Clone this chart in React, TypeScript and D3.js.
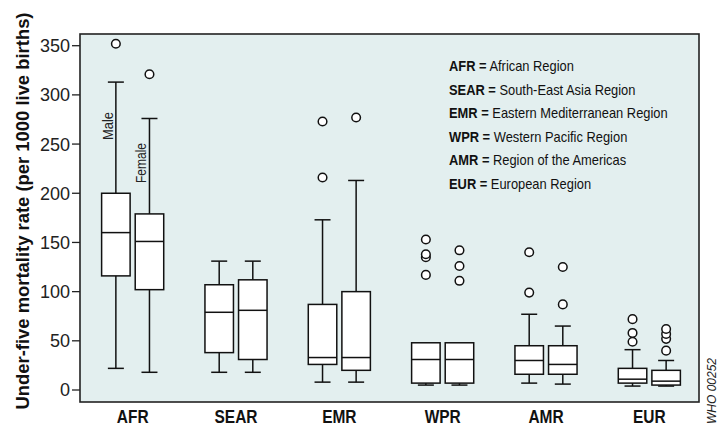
import { useEffect, useRef } from "react";
import * as d3 from "d3";

// regions along the x axis
const regions = ["AFR", "SEAR", "EMR", "WPR", "AMR", "EUR"];
const sexes = ["Male", "Female"];

// box stats (per 1000 live births)
const maleLow = [22, 18, 8, 5, 7, 4];
const maleQ1 = [116, 38, 26, 7, 16, 7];
const maleMedian = [160, 79, 33, 31, 30, 11];
const maleQ3 = [200, 107, 87, 48, 45, 22];
const maleHigh = [313, 131, 173, 48, 77, 41];
const maleOutliers = [[352], [], [216, 273], [117, 135, 138, 153], [99, 140], [49, 58, 72]];

const femaleLow = [18, 18, 8, 5, 6, 4];
const femaleQ1 = [102, 31, 20, 7, 16, 5];
const femaleMedian = [151, 81, 33, 31, 26, 9];
const femaleQ3 = [179, 112, 100, 48, 45, 20];
const femaleHigh = [276, 131, 213, 48, 65, 30];
const femaleOutliers = [[321], [], [277], [111, 126, 142], [87, 125], [40, 52, 57, 62]];

const yTicks = [0, 50, 100, 150, 200, 250, 300, 350];

const legendCodes = ["AFR", "SEAR", "EMR", "WPR", "AMR", "EUR"];
const legendNames = [
    "African Region",
    "South-East Asia Region",
    "Eastern Mediterranean Region",
    "Western Pacific Region",
    "Region of the Americas",
    "European Region",
];

// the original uses a condensed face, so texts get squeezed horizontally
const FONT = "'Liberation Sans', Arial, sans-serif";

export default function App() {
    const svgRef = useRef<SVGSVGElement | null>(null);

    useEffect(() => {
        document.body.style.margin = "0";

        const svg = d3.select(svgRef.current);
        svg.selectAll("*").remove();

        // plot frame
        const frame = { left: 80, right: 699, top: 34, bottom: 402 };

        // build the table of boxes from the arrays
        const boxes = regions.flatMap((r, i) => [
            { region: r, sex: "Male", low: maleLow[i], q1: maleQ1[i], med: maleMedian[i], q3: maleQ3[i], high: maleHigh[i], out: maleOutliers[i] },
            { region: r, sex: "Female", low: femaleLow[i], q1: femaleQ1[i], med: femaleMedian[i], q3: femaleQ3[i], high: femaleHigh[i], out: femaleOutliers[i] },
        ]);

        const x = d3.scaleBand().domain(regions).range([81, 701]);
        const xSex = d3.scaleBand().domain(sexes).range([-33.6, 33.6]);
        const y = d3.scaleLinear().domain([0, 350]).range([390, 45.7]);

        const boxW = 28.5;
        const capW = 16;
        const xMid = (r: string) => (x(r) as number) + x.bandwidth() / 2;
        const cx = (d: any) => xMid(d.region) + (xSex(d.sex) as number) + xSex.bandwidth() / 2;

        // background
        svg.append("rect")
            .attr("x", frame.left)
            .attr("y", frame.top)
            .attr("width", frame.right - frame.left)
            .attr("height", frame.bottom - frame.top)
            .attr("fill", "#e3efef")
            .attr("stroke", "#222")
            .attr("stroke-width", 1.6);

        // y axis ticks
        const yAxis = svg.append("g");
        yAxis.selectAll("line")
            .data(yTicks)
            .join("line")
            .attr("x1", frame.left - 8)
            .attr("x2", frame.left)
            .attr("y1", d => y(d))
            .attr("y2", d => y(d))
            .attr("stroke", "#222")
            .attr("stroke-width", 1.3);
        yAxis.selectAll("text")
            .data(yTicks)
            .join("text")
            .attr("x", frame.left - 10)
            .attr("y", d => y(d))
            .attr("dy", "0.36em")
            .attr("text-anchor", "end")
            .attr("font-family", FONT)
            .attr("font-size", 18)
            .attr("fill", "#222")
            .text(d => d);

        // y title
        svg.append("text")
            .attr("transform", "translate(29,211) rotate(-90)")
            .attr("text-anchor", "middle")
            .attr("font-family", FONT)
            .attr("font-weight", "bold")
            .attr("font-size", 19)
            .attr("fill", "#111")
            .attr("textLength", 397)
            .attr("lengthAdjust", "spacingAndGlyphs")
            .text("Under-five mortality rate (per 1000 live births)");

        // x labels
        const xLabels = svg.append("g")
            .selectAll("text")
            .data(regions)
            .join("text")
            .attr("text-anchor", "middle")
            .attr("font-family", FONT)
            .attr("font-weight", "bold")
            .attr("font-size", 18)
            .attr("fill", "#111")
            .text(d => d);
        const searW = (xLabels.filter(d => d === "SEAR").node() as SVGTextElement).getBBox().width;
        const kx = 43 / searW;
        xLabels.attr("transform", d => `translate(${xMid(d)},423) scale(${kx},1)`);

        const g = svg.append("g")
            .attr("stroke", "#111")
            .attr("stroke-width", 1.5);

        // whiskers
        g.selectAll("line.whisker")
            .data(boxes)
            .join("line")
            .attr("class", "whisker")
            .attr("x1", cx)
            .attr("x2", cx)
            .attr("y1", d => y(d.low))
            .attr("y2", d => y(d.high));

        // whisker caps
        g.selectAll("line.capHigh")
            .data(boxes.filter(d => d.high > d.q3))
            .join("line")
            .attr("class", "capHigh")
            .attr("x1", d => cx(d) - capW / 2)
            .attr("x2", d => cx(d) + capW / 2)
            .attr("y1", d => y(d.high))
            .attr("y2", d => y(d.high));
        g.selectAll("line.capLow")
            .data(boxes)
            .join("line")
            .attr("class", "capLow")
            .attr("x1", d => cx(d) - capW / 2)
            .attr("x2", d => cx(d) + capW / 2)
            .attr("y1", d => y(d.low))
            .attr("y2", d => y(d.low));

        // boxes
        g.selectAll("rect")
            .data(boxes)
            .join("rect")
            .attr("x", d => cx(d) - boxW / 2)
            .attr("y", d => y(d.q3))
            .attr("width", boxW)
            .attr("height", d => y(d.q1) - y(d.q3))
            .attr("fill", "white");

        // medians
        g.selectAll("line.median")
            .data(boxes)
            .join("line")
            .attr("class", "median")
            .attr("x1", d => cx(d) - boxW / 2)
            .attr("x2", d => cx(d) + boxW / 2)
            .attr("y1", d => y(d.med))
            .attr("y2", d => y(d.med));

        // outliers
        const outs = boxes.flatMap(d => d.out.map(v => ({ ...d, v })));
        g.selectAll("circle")
            .data(outs)
            .join("circle")
            .attr("cx", cx)
            .attr("cy", d => y(d.v))
            .attr("r", 4.3)
            .attr("fill", "white");

        // Male / Female labels on the first pair
        const first = boxes.slice(0, 2);
        svg.append("g")
            .selectAll("text")
            .data(first)
            .join("text")
            .attr("transform", (d, i) => `translate(${cx(d) - 3},${i === 0 ? 126 : 163}) rotate(-90)`)
            .attr("text-anchor", "middle")
            .attr("font-family", FONT)
            .attr("font-size", 15)
            .attr("fill", "#222")
            .attr("textLength", (d, i) => (i === 0 ? 28 : 40))
            .attr("lengthAdjust", "spacingAndGlyphs")
            .text(d => d.sex);

        // legend, squeezed so the longest line is as wide as in the original
        const legend = svg.append("g")
            .attr("font-family", FONT)
            .attr("font-size", 14)
            .attr("fill", "#111");
        const rows = legend.selectAll("g")
            .data(legendCodes)
            .join("g");
        rows.append("text")
            .each(function (d, i) {
                const t = d3.select(this);
                t.append("tspan").attr("font-weight", "bold").text(`${d} =`);
                t.append("tspan").text(` ${legendNames[i]}`);
            });
        const widest = d3.max(rows.nodes(), n => (n as SVGGElement).getBBox().width) || 1;
        const kl = 219 / widest;
        rows.attr("transform", (d, i) => `translate(449,${71 + i * 23.6}) scale(${kl},1)`);

        // figure code
        svg.append("text")
            .attr("transform", "translate(716,424) rotate(-90)")
            .attr("font-family", FONT)
            .attr("font-style", "italic")
            .attr("font-size", 12)
            .attr("fill", "#222")
            .text("WHO 00252");
    }, []);

    return <svg ref={svgRef} width={718} height={427} style={{ display: "block" }} />;
}
